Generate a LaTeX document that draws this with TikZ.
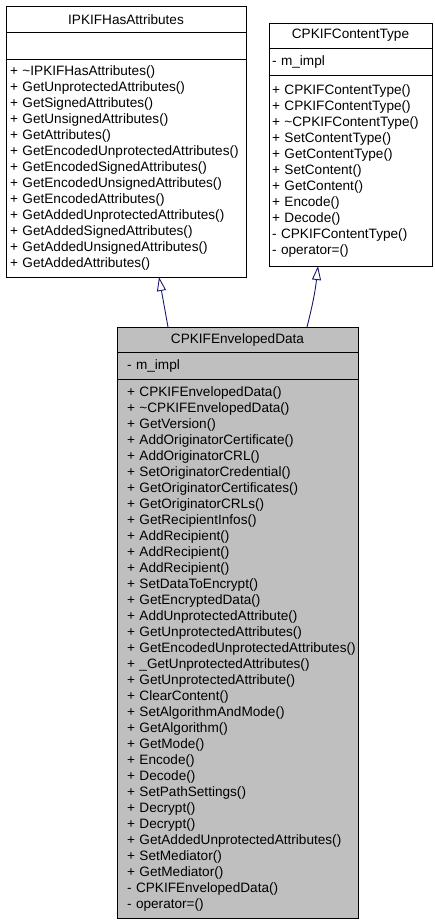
\documentclass[tikz,border=0pt]{standalone}
\usepackage{fontspec}
\setmainfont{Liberation Sans}
\usetikzlibrary{arrows.meta}
\hyphenpenalty=10000
\exhyphenpenalty=10000
\definecolor{edgeblue}{RGB}{25,25,112}
\definecolor{boxgray}{RGB}{191,191,191}
\tikzset{
  cls/.style={draw=black, line width=0.9bp, inner ysep=0pt, outer sep=0pt,
    anchor=north west, font=\fontsize{13.6bp}{16bp}\selectfont},
  ttl/.style={cls, align=center},
  mem/.style={cls, align=left},
  inh/.style={draw=edgeblue, line width=0.9bp,
    -{Triangle[open, length=14bp, width=9bp, line width=0.9bp]}},
}
\begin{document}
\begin{tikzpicture}[x=1bp, y=-1bp]
\useasboundingbox (0,0) rectangle (435,923);

% IPKIFHasAttributes
\node[ttl, inner xsep=4bp, text width=232bp, minimum height=26.5bp] (At) at (6,6) {IPKIFHasAttributes};
\node[mem, inner xsep=4bp, text width=232bp, minimum height=26.5bp] (Aa) at (6,32.5) {};
\node[mem, inner xsep=4bp, text width=232bp, minimum height=218bp] (Am) at (6,59) {%
+~\textasciitilde IPKIFHasAttributes()\\
+~GetUnprotectedAttributes()\\
+~GetSignedAttributes()\\
+~GetUnsignedAttributes()\\
+~GetAttributes()\\
+~GetEncodedUnprotectedAttributes()\\
+~GetEncodedSignedAttributes()\\
+~GetEncodedUnsignedAttributes()\\
+~GetEncodedAttributes()\\
+~GetAddedUnprotectedAttributes()\\
+~GetAddedSignedAttributes()\\
+~GetAddedUnsignedAttributes()\\
+~GetAddedAttributes()};

% CPKIFContentType
\node[ttl, inner xsep=3bp, text width=157bp, minimum height=25bp] (Bt) at (269,23) {CPKIFContentType};
\node[mem, inner xsep=3bp, text width=157bp, minimum height=27bp] (Ba) at (269,48) {-~m\_impl};
\node[mem, inner xsep=3bp, text width=157bp, minimum height=191bp] (Bm) at (269,75) {%
+~CPKIFContentType()\\
+~CPKIFContentType()\\
+~\textasciitilde CPKIFContentType()\\
+~SetContentType()\\
+~GetContentType()\\
+~SetContent()\\
+~GetContent()\\
+~Encode()\\
+~Decode()\\
-~CPKIFContentType()\\
-~operator=()};

% CPKIFEnvelopedData
\node[ttl, fill=boxgray, inner xsep=4bp, text width=233bp, minimum height=25bp] (Ct) at (117,327) {CPKIFEnvelopedData};
\node[mem, fill=boxgray, inner xsep=10bp, text width=221bp, minimum height=27bp] (Ca) at (117,352) {-~m\_impl};
\node[mem, fill=boxgray, inner xsep=10bp, text width=221bp, minimum height=539bp] (Cm) at (117,379) {%
+~CPKIFEnvelopedData()\\
+~\textasciitilde CPKIFEnvelopedData()\\
+~GetVersion()\\
+~AddOriginatorCertificate()\\
+~AddOriginatorCRL()\\
+~SetOriginatorCredential()\\
+~GetOriginatorCertificates()\\
+~GetOriginatorCRLs()\\
+~GetRecipientInfos()\\
+~AddRecipient()\\
+~AddRecipient()\\
+~AddRecipient()\\
+~SetDataToEncrypt()\\
+~GetEncryptedData()\\
+~AddUnprotectedAttribute()\\
+~GetUnprotectedAttributes()\\
+~GetEncodedUnprotectedAttributes()\\
+~\_GetUnprotectedAttributes()\\
+~GetUnprotectedAttribute()\\
+~ClearContent()\\
+~SetAlgorithmAndMode()\\
+~GetAlgorithm()\\
+~GetMode()\\
+~Encode()\\
+~Decode()\\
+~SetPathSettings()\\
+~Decrypt()\\
+~Decrypt()\\
+~GetAddedUnprotectedAttributes()\\
+~SetMediator()\\
+~GetMediator()\\
-~CPKIFEnvelopedData()\\
-~operator=()};

% inheritance
\draw[inh] ([xshift=51bp]Ct.north west) -- ([xshift=153bp]Am.south west);
\draw[inh] ([xshift=190bp]Ct.north west) to[bend right=4] ([xshift=49bp]Bm.south west);
\end{tikzpicture}
\end{document}
